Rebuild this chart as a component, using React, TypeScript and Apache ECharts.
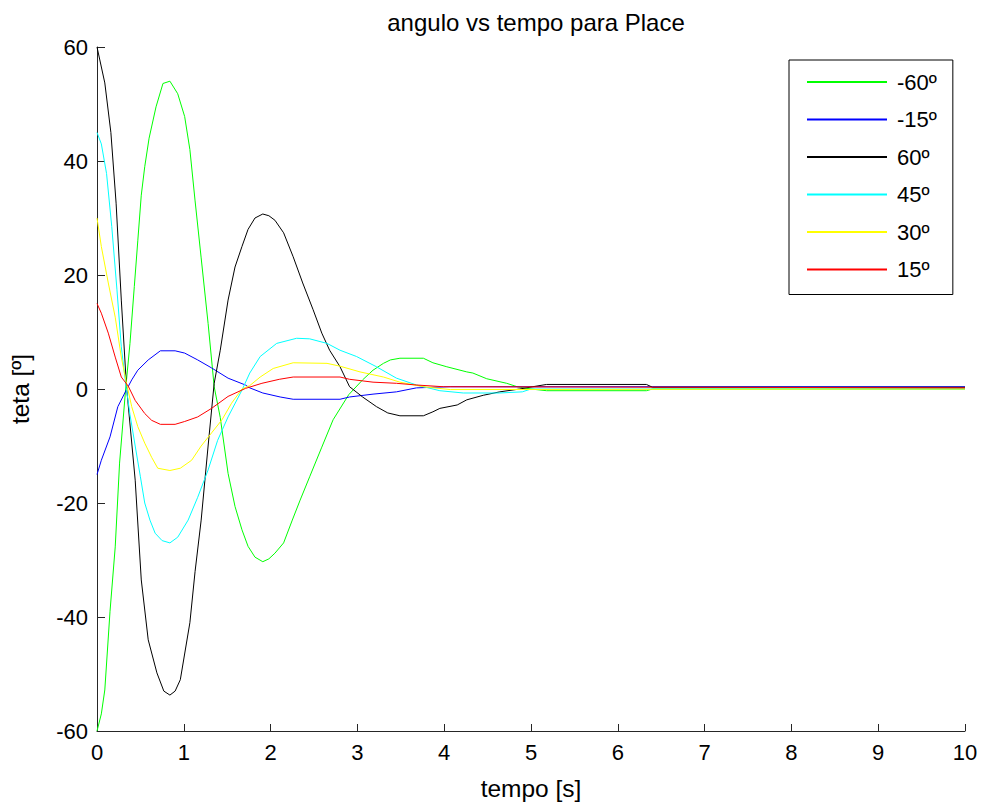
import React, { useEffect, useRef } from "react";
import * as echarts from "echarts";

const FONT = "'Liberation Sans', Arial, Helvetica, sans-serif";

const legendNames = ["-60º", "-15º", "60º", "45º", "30º", "15º"];
const seriesColors = ["#00ff00", "#0000ff", "#000000", "#00ffff", "#ffff00", "#ff0000"];

const xTicks = [0, 10, 1];
const yTicks = [-60, 60, 20];

const curveM60: [number, number][] = [
  [0, -60], [0.05, -57], [0.09, -52.8], [0.15, -39], [0.21, -27.7], [0.26, -13], [0.33, 0],
  [0.38, 8], [0.43, 18], [0.47, 26], [0.51, 34], [0.55, 39], [0.6, 44], [0.68, 49.5],
  [0.76, 53.6], [0.84, 54], [0.93, 51.8], [1.01, 47.8], [1.07, 42], [1.13, 33], [1.2, 23],
  [1.28, 11.5], [1.35, 0.4], [1.42, -5], [1.51, -14.8], [1.59, -20.6], [1.67, -24.7],
  [1.74, -27.6], [1.82, -29.5], [1.91, -30.3], [1.98, -29.8], [2.05, -28.8], [2.15, -27],
  [2.25, -23], [2.34, -19.5], [2.45, -15.4], [2.59, -10.2], [2.72, -5.4], [2.9, -1],
  [3.06, 1.6], [3.18, 3.3], [3.3, 4.5], [3.38, 5.1], [3.49, 5.4], [3.76, 5.4], [3.87, 4.6],
  [4.03, 3.9], [4.26, 3], [4.33, 2.8], [4.49, 1.8], [4.72, 1], [4.84, 0.4], [5.0, 0],
  [5.18, -0.3], [6.33, -0.3], [6.4, 0], [10, 0],
];

const curveM15: [number, number][] = [
  [0, -15], [0.05, -12.5], [0.15, -8.4], [0.24, -3.1], [0.32, -0.7], [0.4, 1.6], [0.47, 3.3],
  [0.59, 5.1], [0.73, 6.7], [0.9, 6.7], [1.01, 6.3], [1.16, 5.1], [1.32, 3.7], [1.51, 1.9],
  [1.71, 0.7], [1.76, 0.2], [1.91, -0.7], [2.11, -1.4], [2.26, -1.8], [2.8, -1.8],
  [2.91, -1.4], [3.18, -0.9], [3.45, -0.5], [3.68, 0.2], [4.07, 0.4], [10, 0.4],
];

const curve60: [number, number][] = [
  [0, 60], [0.09, 53.7], [0.16, 45], [0.22, 32.6], [0.28, 15.6], [0.34, 0.4], [0.44, -16],
  [0.51, -33.5], [0.59, -44], [0.69, -49.8], [0.77, -53], [0.84, -53.7], [0.9, -53],
  [0.96, -51], [1.07, -41], [1.13, -32], [1.2, -23], [1.28, -10], [1.35, 1], [1.42, 6.8],
  [1.51, 15.6], [1.59, 21.4], [1.67, 25], [1.74, 28], [1.82, 30], [1.91, 30.7], [1.98, 30.4],
  [2.05, 29.6], [2.15, 27.4], [2.26, 23.2], [2.37, 18.6], [2.49, 13.9], [2.59, 9.8],
  [2.68, 6.8], [2.8, 3.9], [2.91, 0.4], [3.06, -1.4], [3.22, -3.1], [3.35, -4.2], [3.49, -4.7],
  [3.76, -4.7], [3.87, -4], [3.95, -3.4], [4.15, -2.8], [4.26, -1.9], [4.45, -1.1],
  [4.64, -0.5], [4.87, 0], [5.02, 0.4], [5.18, 0.8], [6.33, 0.8], [6.4, 0.3], [10, 0.3],
];

const curve45: [number, number][] = [
  [0, 45], [0.05, 43], [0.11, 37.8], [0.17, 28.5], [0.23, 17.4], [0.28, 7.4], [0.33, 1],
  [0.38, -4.5], [0.44, -10], [0.5, -15.4], [0.55, -20], [0.61, -23], [0.67, -25.3],
  [0.75, -26.6], [0.84, -27], [0.93, -26], [1.05, -23], [1.16, -19], [1.28, -14.2],
  [1.39, -9], [1.51, -4.9], [1.67, -0.2], [1.76, 2.8], [1.88, 5.7], [2.07, 8], [2.3, 8.9],
  [2.45, 8.8], [2.65, 8], [2.8, 6.8], [2.99, 5.7], [3.22, 3.9], [3.45, 1.9], [3.68, 0.7],
  [3.95, -0.3], [4.22, -0.7], [4.64, -0.7], [4.9, -0.5], [5.0, 0], [10, 0],
];

const curve30: [number, number][] = [
  [0, 30], [0.05, 25], [0.13, 18.6], [0.21, 12.6], [0.28, 5.6], [0.34, 1], [0.4, -3.1],
  [0.47, -6.6], [0.55, -9.5], [0.63, -12], [0.7, -13.9], [0.84, -14.3], [0.96, -13.9],
  [1.09, -12.5], [1.2, -10], [1.32, -7.7], [1.44, -5.4], [1.55, -2.5], [1.67, 0],
  [1.76, 0.6], [1.88, 2.1], [2.03, 3.6], [2.26, 4.6], [2.65, 4.5], [2.8, 4], [3.03, 3],
  [3.3, 2.1], [3.49, 1.2], [3.76, 0.4], [4.07, -0.1], [10, 0],
];

const curve15: [number, number][] = [
  [0, 15], [0.05, 13.3], [0.13, 9.8], [0.21, 5.6], [0.28, 2.1], [0.36, 0.5], [0.44, -2],
  [0.55, -4.3], [0.63, -5.5], [0.73, -6.2], [0.9, -6.2], [1.01, -5.7], [1.16, -4.9],
  [1.32, -3.4], [1.51, -1.3], [1.71, 0.1], [1.9, 1], [2.1, 1.7], [2.26, 2.1], [2.8, 2.1],
  [2.91, 1.7], [3.18, 1.2], [3.45, 1], [3.68, 0.7], [3.99, 0.4], [10, 0.2],
];

const curves = [curveM60, curveM15, curve60, curve45, curve30, curve15];

export default function App() {
  const ref = useRef<HTMLDivElement>(null);
  useEffect(() => {
    if (!ref.current) return;
    const chart = echarts.init(ref.current, null, { renderer: "svg" });
    const axisColor = "#262626";
    chart.setOption({
      animation: false,
      backgroundColor: "#ffffff",
      title: {
        text: "angulo vs tempo para Place",
        left: 531,
        top: 5,
        textAlign: "center",
        textStyle: { fontFamily: FONT, fontSize: 24, fontWeight: "normal", color: "#000" },
      },
      grid: { left: 97, right: 19, top: 47, bottom: 78, containLabel: false },
      legend: {
        orient: "vertical",
        left: 789,
        top: 60,
        padding: [10, 16, 13, 17],
        itemWidth: 80,
        itemHeight: 14,
        itemGap: 13.5,
        backgroundColor: "#ffffff",
        borderColor: "#000000",
        borderWidth: 1,
        borderRadius: 0,
        data: legendNames,
        itemStyle: { opacity: 0 },
        textStyle: { fontFamily: FONT, fontSize: 22, color: "#000", padding: [0, 0, 0, 5], lineHeight: 24 },
      },
      xAxis: {
        type: "value",
        min: xTicks[0],
        max: xTicks[1],
        interval: xTicks[2],
        name: "tempo [s]",
        nameLocation: "middle",
        nameGap: 45,
        nameTextStyle: { fontFamily: FONT, fontSize: 24.5, color: "#000" },
        axisLine: { show: true, onZero: false, lineStyle: { color: axisColor, width: 1 } },
        axisTick: { show: true, inside: true, length: 7, lineStyle: { color: axisColor } },
        axisLabel: { fontFamily: FONT, fontSize: 22, color: "#000", margin: 10 },
        splitLine: { show: false },
      },
      yAxis: {
        type: "value",
        min: yTicks[0],
        max: yTicks[1],
        interval: yTicks[2],
        name: "teta [º]",
        nameLocation: "middle",
        nameGap: 64,
        nameRotate: 90,
        nameTextStyle: { fontFamily: FONT, fontSize: 24.5, color: "#000" },
        axisLine: { show: true, lineStyle: { color: axisColor, width: 1 } },
        axisTick: { show: true, inside: true, length: 8, lineStyle: { color: axisColor } },
        axisLabel: { fontFamily: FONT, fontSize: 22, color: "#000", margin: 9 },
        splitLine: { show: false },
      },
      series: curves.map((c, i) => ({
        name: legendNames[i],
        type: "line",
        data: c,
        symbol: "none",
        smooth: false,
        lineStyle: { color: seriesColors[i], width: 1 },
        itemStyle: { color: seriesColors[i] },
      })),
    });
    return () => chart.dispose();
  }, []);
  return (
    <div
      ref={ref}
      style={{ position: "fixed", left: 0, top: 0, width: 984, height: 809, background: "#fff" }}
    />
  );
}
